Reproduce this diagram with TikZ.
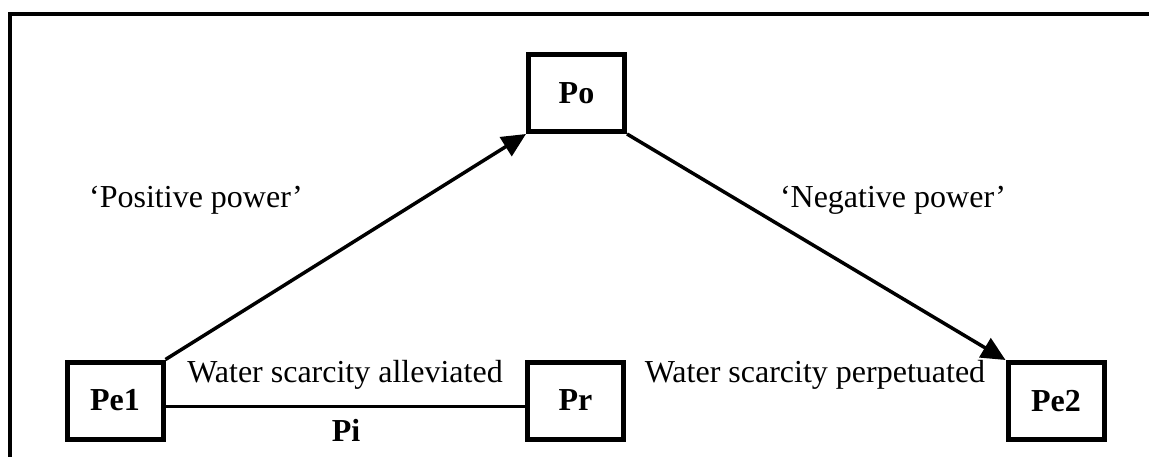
\documentclass[tikz,border=0pt]{standalone}
\usepackage{fontspec}
\setmainfont{Liberation Serif}
\usetikzlibrary{arrows.meta}
\begin{document}
\begin{tikzpicture}[x=1pt,y=-1pt,
  box/.style={draw,line width=5pt,minimum width=96pt,minimum height=77pt,inner sep=0pt,font=\fontsize{32}{36}\selectfont\bfseries},
  lbl/.style={inner sep=0pt,anchor=base,font=\fontsize{32}{36}\selectfont},
  conn/.style={line width=3.5pt},
  arr/.style={conn,-{Triangle[length=24pt,width=22pt]}}]
\useasboundingbox (0,0) rectangle (1149,457);
\coordinate (fl) at (9.5,457);
\coordinate (ftl) at (9.5,14);
\coordinate (ftr) at (1149,14);
\draw[line width=4pt] (fl) -- (ftl) -- (ftr);
\node[box] (Po) at (576.5,93) {Po};
\node[box] (Pe1) at (115,400.5) {Pe1};
\node[box] (Pr) at (575.5,400.5) {Pr};
\node[box] (Pe2) at (1056,401) {Pe2};
\draw[arr] (Pe1.north east) -- (Po.south west);
\draw[arr] (Po.south east) -- (Pe2.north west);
\draw[conn] ([yshift=-6pt]Pe1.east) -- ([yshift=-6pt]Pr.west);
\node[lbl] (pos) at (196,208) {‘Positive power’};
\node[lbl] (neg) at (893,208) {‘Negative power’};
\node[lbl] (wsa) at (345,382) {Water scarcity alleviated};
\node[lbl] (wsp) at (815,382) {Water scarcity perpetuated};
\node[lbl,font=\fontsize{32}{36}\selectfont\bfseries] (Pi) at (346,441) {Pi};
\end{tikzpicture}
\end{document}
